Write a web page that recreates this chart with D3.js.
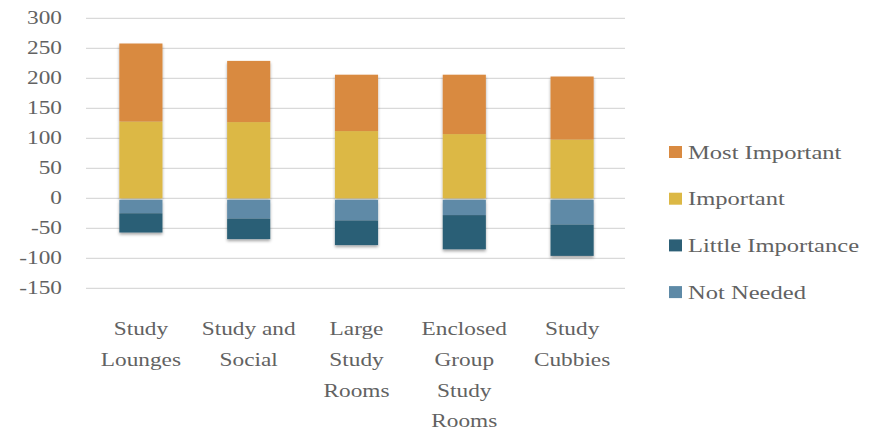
<!DOCTYPE html>
<html>
<head>
<meta charset="utf-8">
<script src="https://cdn.jsdelivr.net/npm/d3@7"></script>
<style>
  html, body { margin: 0; padding: 0; background: #fff; }
  svg { display: block; }
</style>
</head>
<body>
<div id="chart"></div>
<script>
// ── Data ────────────────────────────────────────────────────
const categories = [
    ['Study', 'Lounges'],
    ['Study and', 'Social'],
    ['Large', 'Study', 'Rooms'],
    ['Enclosed', 'Group', 'Study', 'Rooms'],
    ['Study', 'Cubbies']
];
const mostImportant = [130, 102, 94, 99, 105];
const important = [128, 127, 112, 107, 98];
const notNeeded = [-25, -34, -37, -28, -44];
const littleImportance = [-32, -34, -41, -57, -52];
const yTicks = [300, 250, 200, 150, 100, 50, 0, -50, -100, -150];

const seriesNames = ['Important', 'Most Important', 'Not Needed', 'Little Importance'];
const legendOrder = ['Most Important', 'Important', 'Little Importance', 'Not Needed'];

const COLORS = {
    'Most Important': '#d98a41',
    'Important': '#dcb845',
    'Little Importance': '#2c5f76',
    'Not Needed': '#5e8aa7'
};
const FONT = "'Liberation Serif', 'Times New Roman', serif";
const TEXT_COLOR = '#626262';
const STRETCH = 1.24; // reference type is set wide

const width = 878, height = 433;
const svg = d3.select('#chart').append('svg').attr('width', width).attr('height', height);

const defs = svg.append('defs');
const shadow = defs.append('filter').attr('id', 'shadow')
    .attr('x', '-20%').attr('y', '-10%').attr('width', '140%').attr('height', '130%');
shadow.append('feDropShadow').attr('dx', 0).attr('dy', 2).attr('stdDeviation', 1.6)
    .attr('flood-color', '#000').attr('flood-opacity', 0.35);

const rows = categories.map((c, i) => ({
    idx: i,
    'Important': important[i],
    'Most Important': mostImportant[i],
    'Not Needed': notNeeded[i],
    'Little Importance': littleImportance[i]
}));

const x = d3.scaleBand().domain(d3.range(categories.length)).range([87, 626])
    .paddingInner(0.6).paddingOuter(0.3);
const y = d3.scaleLinear().domain([-150, 300]).range([288.3, 18.3]);

// helper: horizontally stretched text
function wideText(parent, tx, ty, str, anchor, size) {
    return parent.append('g').attr('transform', `translate(${tx},${ty}) scale(${STRETCH},1)`)
        .append('text')
        .attr('text-anchor', anchor)
        .attr('font-family', FONT).attr('font-size', size)
        .attr('fill', TEXT_COLOR)
        .text(str);
}

// gridlines
svg.append('g').selectAll('line').data(yTicks).join('line')
    .attr('x1', 86).attr('x2', 625)
    .attr('y1', d => y(d)).attr('y2', d => y(d))
    .attr('stroke', '#d9d9d9').attr('stroke-width', 1.3);

// y tick labels
const yLab = svg.append('g');
yTicks.forEach(t => wideText(yLab, 62, y(t) + 6, t, 'end', 18.8));

// stacked bars
const stack = d3.stack().keys(seriesNames).offset(d3.stackOffsetDiverging);
const stacked = stack(rows);

const barsG = svg.append('g');
const cols = barsG.selectAll('g.col').data(rows).join('g').attr('class', 'col')
    .attr('filter', 'url(#shadow)');
cols.each(function (row, i) {
    const g = d3.select(this);
    stacked.forEach(s => {
        const d = s[i];
        const y0 = y(Math.max(d[0], d[1]));
        const y1 = y(Math.min(d[0], d[1]));
        const neg = row[s.key] < 0;
        const gap = neg && Math.max(d[0], d[1]) === 0 ? 1.5 : 0;
        g.append('rect')
            .attr('x', x(i)).attr('width', x.bandwidth())
            .attr('y', y0 + gap)
            .attr('height', y1 - y0 - gap)
            .attr('fill', COLORS[s.key]);
    });
});

// x category labels
const xLab = svg.append('g');
categories.forEach((lines, i) => {
    const cx = x(i) + x.bandwidth() / 2;
    lines.forEach((ln, j) => wideText(xLab, cx, 335 + j * 30.8, ln, 'middle', 18.8));
});

// legend
const leg = svg.append('g');
legendOrder.forEach((name, i) => {
    const cy = 152 + i * 46.7;
    leg.append('rect').attr('x', 669).attr('y', cy - 6).attr('width', 13).attr('height', 12)
        .attr('fill', COLORS[name]);
    wideText(leg, 688, cy + 6.5, name, 'start', 19.8);
});
</script>
</body>
</html>
